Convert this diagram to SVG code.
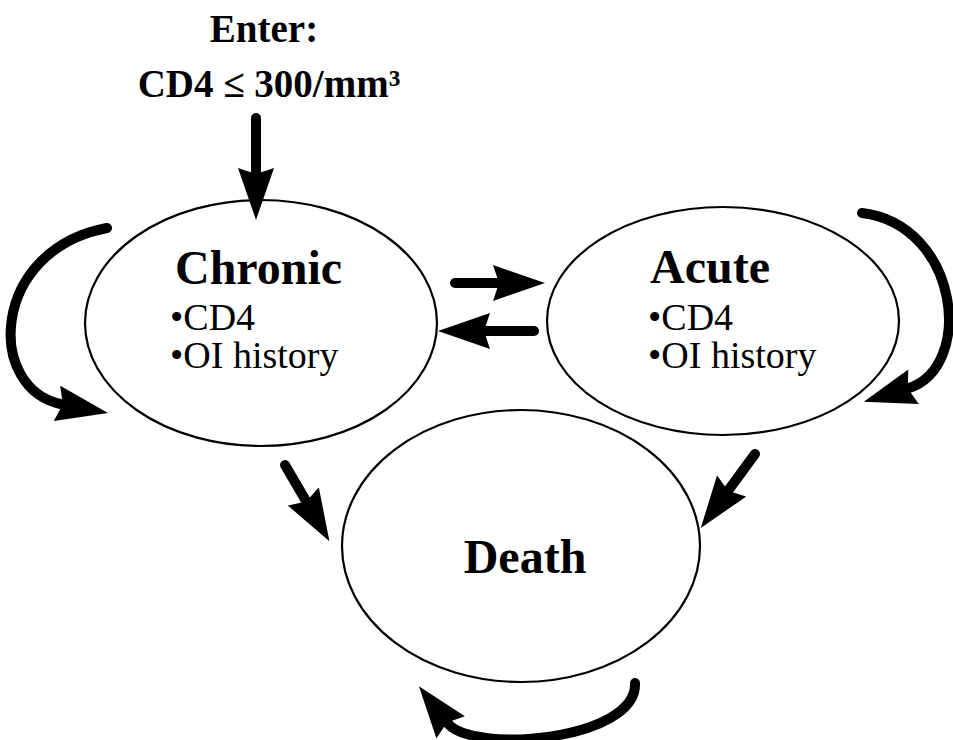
<svg xmlns="http://www.w3.org/2000/svg" width="953" height="740" viewBox="0 0 953 740">
<style>
.node{fill:#fff;stroke:#000;stroke-width:2.2}
.title{font-family:"Liberation Serif","Times New Roman",serif;font-weight:bold;fill:#000}
.item{font-family:"Liberation Serif","Times New Roman",serif;font-size:38px;fill:#000}
.arr{fill:none;stroke:#000;stroke-width:10;stroke-linecap:round;marker-end:url(#head)}
</style>
<defs>
<marker id="head" viewBox="0 0 13 9" refX="1.5" refY="4.5" markerWidth="5.2" markerHeight="3.6" orient="auto" markerUnits="strokeWidth">
<path d="M0,0 L13,4.5 L0,9 L1.5,4.5 z" fill="#000"/>
</marker>
</defs>
<g id="enter">
<text class="title" x="264" y="42" font-size="39" text-anchor="middle">Enter:</text>
<text class="title" x="269" y="97" font-size="39" text-anchor="middle">CD4 ≤ 300/mm³</text>
</g>
<g id="chronic">
<ellipse class="node" cx="261" cy="323" rx="176" ry="123"/>
<text class="title" x="175" y="284" font-size="48">Chronic</text>
<text class="item" x="170" y="330">•CD4</text>
<text class="item" x="170" y="368">•OI history</text>
</g>
<g id="acute">
<ellipse class="node" cx="723" cy="321" rx="176" ry="114"/>
<text class="title" x="650" y="283" font-size="48">Acute</text>
<text class="item" x="648" y="330">•CD4</text>
<text class="item" x="648" y="368">•OI history</text>
</g>
<g id="death">
<ellipse class="node" cx="521" cy="546" rx="179" ry="136"/>
<text class="title" x="525" y="573" font-size="48" text-anchor="middle">Death</text>
</g>
<g id="connectors">
<path class="arr" d="M256,118 L256,174"/>
<path class="arr" d="M455,283 L499,283"/>
<path class="arr" d="M534,331 L484,331"/>
<path class="arr" d="M285,465 L306.3,501.6"/>
<path class="arr" d="M755,454 L728,490.8"/>
<path class="arr" d="M107,228 C-10,250 -15,390 62.8,404.5"/>
<path class="arr" d="M862,213 C960,225 975,368 907.8,388.4"/>
<path class="arr" d="M635,683 C638,740 472,755 447,722.6"/>
</g>
</svg>
